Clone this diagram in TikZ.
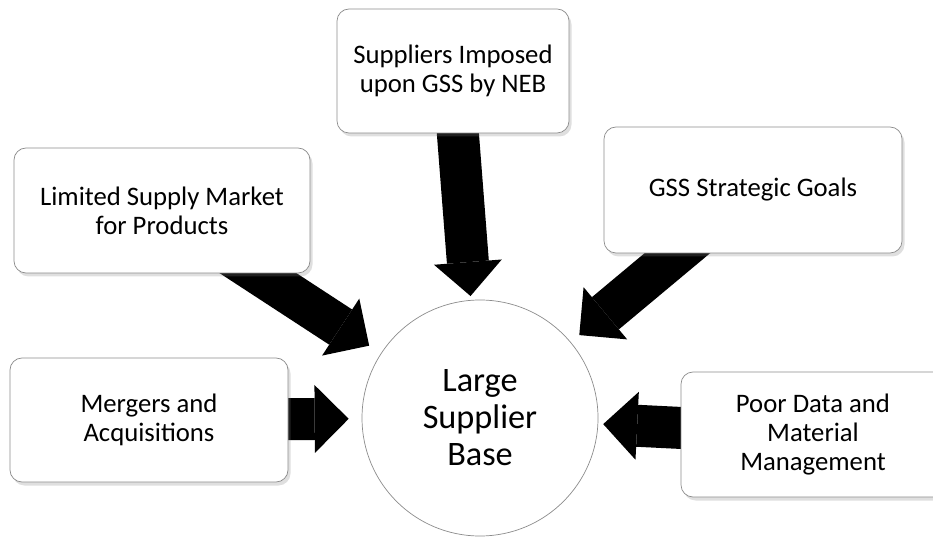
\documentclass[tikz,border=0pt]{standalone}
\usepackage{fontspec}
\setmainfont{Carlito}
\usetikzlibrary{arrows.meta, positioning, shadows, backgrounds}

\begin{document}
\begin{tikzpicture}[
    factor/.style={draw=black!45, fill=white, rounded corners=0.24cm,
        align=center, font=\fontsize{15.2}{16.5}\selectfont,
        drop shadow={shadow xshift=0.05cm, shadow yshift=-0.07cm, opacity=0.25}},
    core/.style={circle, draw=black!45, fill=white, minimum size=4.72cm,
        align=center, font=\fontsize{19.5}{21}\selectfont},
    push/.style={line width=0.84cm,
        -{Triangle[length=0.68cm, width=1.36cm, line width=0pt]}},
]

    \useasboundingbox (0,0) rectangle (18.66,10.74);

    \node[core] (base) at (9.6,2.38) {Large\\Supplier\\Base};

    \node[factor, minimum width=4.64cm, minimum height=2.48cm] (neb)    at (9.06,9.32)  {Suppliers Imposed\\upon GSS by NEB};
    \node[factor, minimum width=5.92cm, minimum height=2.5cm]  (market) at (3.24,6.53)  {Limited Supply Market\\for Products};
    \node[factor, minimum width=5.96cm, minimum height=2.52cm] (goals)  at (15.06,6.94) {GSS Strategic Goals};
    \node[factor, minimum width=5.56cm, minimum height=2.48cm] (merge)  at (2.98,2.34)  {Mergers and\\Acquisitions};
    \node[factor, minimum width=5.28cm, minimum height=2.5cm]  (data)   at (16.26,2.05) {Poor Data and\\Material\\Management};

    \begin{scope}[on background layer]
    \path
        (neb.center)    edge [push, shorten >=0.08cm] (base)
        (market.center) edge [push, shorten >=0.28cm] (base)
        (goals.center)  edge [push, shorten >=0.22cm] (base)
        (merge.center)  edge [push, shorten >=0.26cm] (base)
        (data.center)   edge [push, shorten >=0.1cm]  (base)
    ;
    \end{scope}
\end{tikzpicture}
\end{document}
